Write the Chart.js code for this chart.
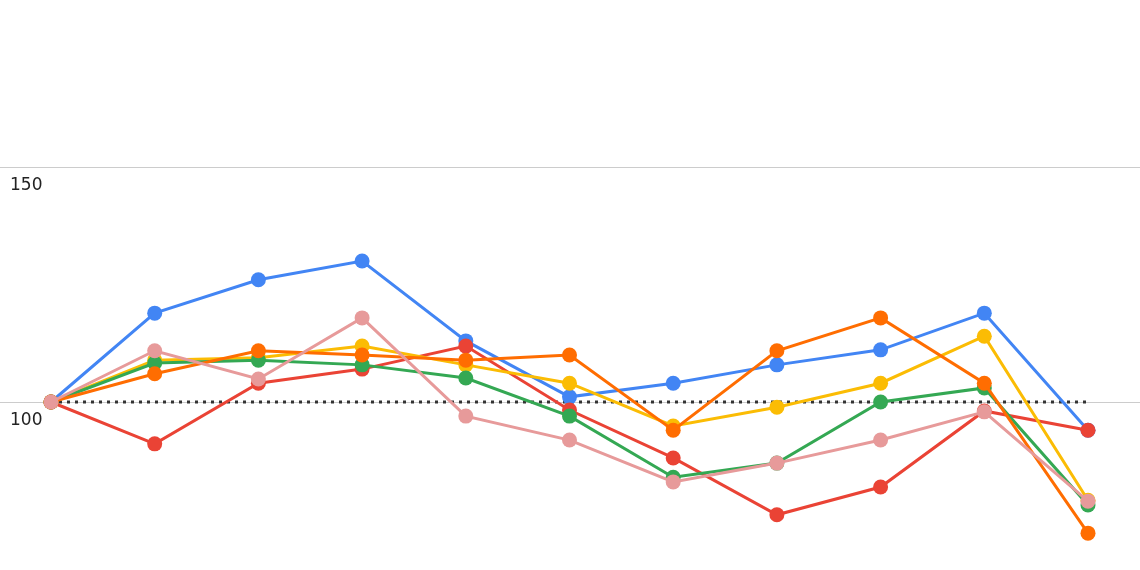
<!DOCTYPE html>
<html>
<head>
<meta charset="utf-8">
<script src="https://cdn.jsdelivr.net/npm/chart.js@4"></script>
<style>
  html, body { margin: 0; padding: 0; background: #fff; }
  #wrap { width: 1140px; height: 570px; }
</style>
</head>
<body>
<div id="wrap"><canvas id="chart" width="1140" height="570"></canvas></div>
<script>
// ── data ────────────────────────────────────────────────
const labels   = ['1','2','3','4','5','6','7','8','9','10','11'];
const blue     = [100, 118.9, 126.0, 130.0, 113.0, 101.1, 104.0, 107.9, 111.1, 118.9, 94.0];
const red      = [100, 91.1, 104.0, 107.0, 111.9, 98.3, 88.1, 76.0, 81.9, 98.1, 94.0];
const yellow   = [100, 108.9, 109.4, 111.9, 107.9, 104.0, 94.9, 98.9, 104.0, 114.0, 79.1];
const green    = [100, 108.3, 108.9, 107.9, 105.1, 97.0, 84.0, 87.0, 100.0, 103.0, 78.1];
const orange   = [100, 106.0, 110.9, 110.0, 108.9, 110.0, 94.0, 110.9, 117.9, 104.0, 72.1];
const pink     = [100, 110.9, 104.9, 117.9, 97.0, 91.9, 83.0, 87.0, 91.9, 97.9, 78.9];
const baseline = labels.map(() => 100);
const gridTicks = [100, 150];

const line = (data, color, order) => ({
  data, order,
  borderColor: color, backgroundColor: color,
  borderWidth: 3, pointRadius: 7.5, pointHoverRadius: 7.5,
  pointBorderWidth: 0, tension: 0, clip: false
});

// ── full-width gridlines + labels ───────────────────────
const gridPlugin = {
  id: 'grid',
  beforeDatasetsDraw(chart) {
    const { ctx, scales: { y } } = chart;
    ctx.save();
    ctx.strokeStyle = '#cccccc';
    ctx.lineWidth = 1;
    ctx.fillStyle = '#222';
    ctx.font = '17px "DejaVu Sans"';
    ctx.textBaseline = 'top';
    gridTicks.forEach(v => {
      const py = Math.round(y.getPixelForValue(v)) + 0.5;
      ctx.beginPath();
      ctx.moveTo(0, py);
      ctx.lineTo(chart.width, py);
      ctx.stroke();
      ctx.fillText(String(v), 10, py + 10);
    });
    ctx.restore();
  }
};

new Chart(document.getElementById('chart'), {
  type: 'line',
  data: {
    labels,
    datasets: [
      line(blue,   '#4285F4', 6),
      line(red,    '#EA4335', 5),
      line(yellow, '#FBBC04', 4),
      line(green,  '#34A853', 3),
      line(orange, '#FF6D01', 2),
      line(pink,   '#E79A9A', 1),
      {
        data: baseline, order: 7,
        borderColor: '#333', borderWidth: 3, borderDash: [3, 5],
        pointRadius: 0, clip: false
      }
    ]
  },
  options: {
    responsive: false,
    animation: false,
    layout: { padding: { left: 51, right: 52, top: 0, bottom: 0 } },
    plugins: { legend: { display: false }, tooltip: { enabled: false } },
    scales: {
      x: { display: false },
      y: { display: false, min: 65.85, max: 183.94 }
    }
  },
  plugins: [gridPlugin]
});
</script>
</body>
</html>
